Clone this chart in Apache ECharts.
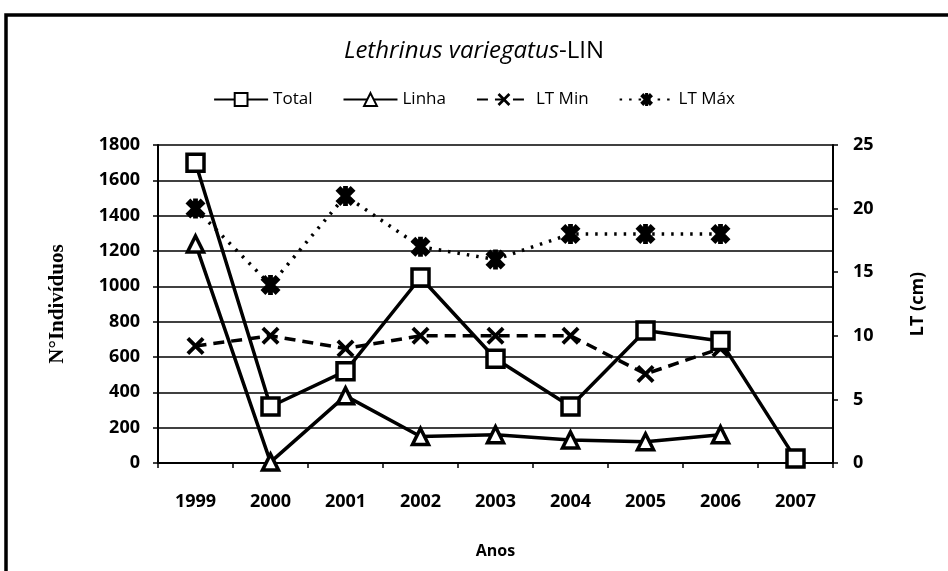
<!DOCTYPE html>
<html>
<head>
<meta charset="utf-8">
<script src="https://cdn.jsdelivr.net/npm/echarts@6/dist/echarts.min.js"></script>
<style>
  html, body { margin: 0; padding: 0; background: #fff; }
  #chart { width: 948px; height: 571px; }
</style>
</head>
<body>
<div id="chart"></div>
<script>
// data
const years = ['1999', '2000', '2001', '2002', '2003', '2004', '2005', '2006', '2007']
const total = [1700, 320, 520, 1050, 590, 320, 750, 690, 25]
const linha = [1240, 5, 380, 150, 160, 130, 120, 160, null]
const ltMin = [9.2, 10, 9, 10, 10, 10, 7, 9, null]   // cm, right axis
const ltMax = [20, 14, 21, 17, 16, 18, 18, 18, null] // cm, right axis

// marker shapes
const crossPath = 'path://M0,1.5L1.5,0L5,3.5L8.5,0L10,1.5L6.5,5L10,8.5L8.5,10L5,6.5L1.5,10L0,8.5L3.5,5Z'
const starPath = 'path://M0,2.4L2.4,0L5,2.6L7.6,0L10,2.4L7.4,5L10,7.6L7.6,10L5,7.4L2.4,10L0,7.6L2.6,5Z M3.8,0L6.2,0L6.2,10L3.8,10Z'

const labelFont = { color: '#000', fontSize: 18, fontWeight: 'bold', fontFamily: 'Open Sans' }
const plain = v => String(v)

const myChart = echarts.init(document.getElementById('chart'))
const option = {
  backgroundColor: '#fff',
  animation: false,
  title: {
    text: '{i|Lethrinus variegatus}{n|-LIN}',
    left: 'center',
    top: 34,
    textStyle: {
      rich: {
        i: { fontSize: 24, fontStyle: 'italic', fontWeight: 'normal', fontFamily: 'Open Sans', color: '#000' },
        n: { fontSize: 24, fontWeight: 'normal', fontFamily: 'Open Sans', color: '#000' }
      }
    }
  },
  legend: {
    top: 86,
    left: 'center',
    itemWidth: 54,
    itemHeight: 16,
    itemGap: 30,
    textStyle: { color: '#000', fontSize: 17, fontFamily: 'Open Sans' },
    data: ['Total', 'Linha', 'LT Min', 'LT Máx']
  },
  graphic: [{
    type: 'rect',
    shape: { x: 6, y: 15, width: 1000, height: 700 },
    style: { fill: 'none', stroke: '#000', lineWidth: 3.5 },
    silent: true
  }],
  grid: { left: 158, right: 115, top: 145, bottom: 108 },
  xAxis: {
    type: 'category',
    data: years,
    boundaryGap: true,
    name: 'Anos',
    nameLocation: 'middle',
    nameGap: 80,
    nameTextStyle: { color: '#000', fontSize: 16, fontWeight: 'bold', fontFamily: 'Open Sans' },
    axisLine: { lineStyle: { color: '#000', width: 2 } },
    axisTick: { show: true, length: 5, lineStyle: { color: '#000', width: 1.5 } },
    axisLabel: Object.assign({ margin: 30 }, labelFont)
  },
  yAxis: [{
    type: 'value',
    min: 0,
    max: 1800,
    interval: 200,
    name: 'N°Indivíduos',
    nameLocation: 'middle',
    nameGap: 90,
    nameTextStyle: { color: '#000', fontSize: 21, fontWeight: 'bold', fontFamily: 'Liberation Serif' },
    axisLine: { show: true, lineStyle: { color: '#000', width: 2 } },
    axisTick: { show: true, length: 5, lineStyle: { color: '#000', width: 1.5 } },
    splitLine: { lineStyle: { color: '#000', width: 1.5 } },
    axisLabel: Object.assign({ margin: 18, formatter: plain }, labelFont)
  }, {
    type: 'value',
    min: 0,
    max: 25,
    interval: 5,
    name: 'LT (cm)',
    nameLocation: 'middle',
    nameGap: 76,
    nameRotate: 90,
    nameTextStyle: { color: '#000', fontSize: 18, fontWeight: 'bold', fontFamily: 'Open Sans' },
    axisLine: { show: true, lineStyle: { color: '#000', width: 2 } },
    axisTick: { show: true, length: 5, lineStyle: { color: '#000', width: 1.5 } },
    splitLine: { show: false },
    axisLabel: Object.assign({ margin: 20, formatter: plain }, labelFont)
  }],
  series: [
    {
      name: 'Total',
      type: 'line',
      data: total,
      symbol: 'rect',
      symbolSize: 17,
      lineStyle: { color: '#000', width: 3.5 },
      itemStyle: { color: '#fff', borderColor: '#000', borderWidth: 3.5 },
      z: 4
    },
    {
      name: 'Linha',
      type: 'line',
      data: linha,
      symbol: 'triangle',
      symbolSize: 16,
      lineStyle: { color: '#000', width: 3.5 },
      itemStyle: { color: '#fff', borderColor: '#000', borderWidth: 3.5 },
      z: 3
    },
    {
      name: 'LT Min',
      type: 'line',
      yAxisIndex: 1,
      data: ltMin,
      symbol: crossPath,
      symbolSize: 18,
      lineStyle: { color: '#000', width: 3.5, type: [11, 7] },
      itemStyle: { color: '#000', borderWidth: 0 },
      z: 2
    },
    {
      name: 'LT Máx',
      type: 'line',
      yAxisIndex: 1,
      data: ltMax,
      symbol: starPath,
      symbolSize: 20,
      lineStyle: { color: '#000', width: 3.5, type: [2.5, 7] },
      itemStyle: { color: '#000', borderWidth: 0 },
      z: 2
    }
  ]
}
myChart.setOption(option)
</script>
</body>
</html>
